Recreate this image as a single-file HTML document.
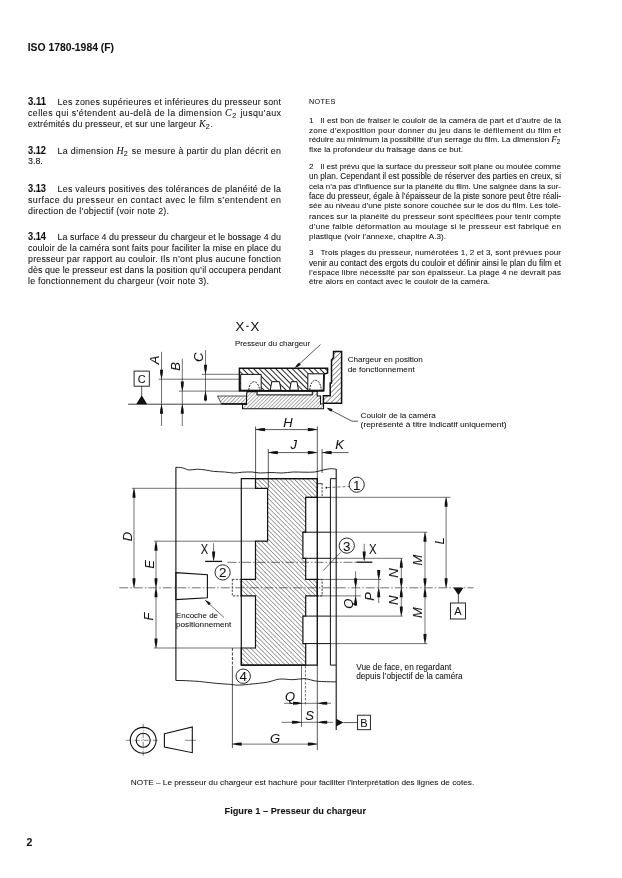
<!DOCTYPE html>
<html><head><meta charset="utf-8"><style>
html,body{margin:0;padding:0;background:#fff;}
body{width:622px;height:878px;overflow:hidden;position:relative;}
svg{position:absolute;left:0;top:0;filter:grayscale(1);}
text{font-family:"Liberation Sans", sans-serif;fill:#111;stroke:#111;stroke-width:0.06px;}
</style></head><body>
<svg width="622" height="878" viewBox="0 0 622 878">
<defs>
<pattern id="hp" patternUnits="userSpaceOnUse" width="3.9" height="3.9" patternTransform="rotate(-45)"><line x1="0" y1="0" x2="0" y2="3.9" stroke="#111" stroke-width="1.8"/></pattern>
<pattern id="hc" patternUnits="userSpaceOnUse" width="2.6" height="2.6" patternTransform="rotate(45)"><line x1="0" y1="0" x2="0" y2="2.6" stroke="#222" stroke-width="0.75"/></pattern>
<pattern id="hg" patternUnits="userSpaceOnUse" width="3.6" height="3.6" patternTransform="rotate(45)"><line x1="0" y1="0" x2="0" y2="3.6" stroke="#111" stroke-width="0.9"/></pattern>
<pattern id="hf" patternUnits="userSpaceOnUse" width="3.2" height="3.2" patternTransform="rotate(-45)"><line x1="0" y1="0" x2="0" y2="3.2" stroke="#111" stroke-width="0.75"/></pattern>
</defs>
<text x="27.7" y="50.8" font-size="10.4" font-weight="bold" textLength="86.3" lengthAdjust="spacingAndGlyphs">ISO 1780-1984 (F)</text>
<text x="28" y="105.2" font-size="10" font-weight="bold" textLength="18" lengthAdjust="spacingAndGlyphs">3.11</text>
<text x="57.6" y="105.2" font-size="8.9" textLength="223.4" lengthAdjust="spacing">Les zones supérieures et inférieures du presseur sont</text>
<text x="28" y="115.8" font-size="8.9" textLength="253" lengthAdjust="spacing">celles qui s’étendent au-delà de la dimension <tspan font-style="italic" style="font-family:'Liberation Serif',serif" font-size="1.12em">C</tspan><tspan font-size="0.8em" dy="2.2">2</tspan><tspan dy="-2.2"> </tspan> jusqu’aux</text>
<text x="28" y="126.9" font-size="8.9" textLength="185" lengthAdjust="spacing">extrémités du presseur, et sur une largeur <tspan font-style="italic" style="font-family:'Liberation Serif',serif" font-size="1.12em">K</tspan><tspan font-size="0.8em" dy="2.2">2</tspan><tspan dy="-2.2"> </tspan>.</text>
<text x="28" y="153.8" font-size="10" font-weight="bold" textLength="18" lengthAdjust="spacingAndGlyphs">3.12</text>
<text x="57.6" y="153.8" font-size="8.9" textLength="223.4" lengthAdjust="spacing">La dimension <tspan font-style="italic" style="font-family:'Liberation Serif',serif" font-size="1.12em">H</tspan><tspan font-size="0.8em" dy="2.2">2</tspan><tspan dy="-2.2"> </tspan> se mesure à partir du plan décrit en</text>
<text x="28" y="164.4" font-size="8.9">3.8.</text>
<text x="28" y="191.6" font-size="10" font-weight="bold" textLength="18" lengthAdjust="spacingAndGlyphs">3.13</text>
<text x="57.6" y="191.6" font-size="8.9" textLength="223.4" lengthAdjust="spacing">Les valeurs positives des tolérances de planéité de la</text>
<text x="28" y="202.7" font-size="8.9" textLength="253" lengthAdjust="spacing">surface du presseur en contact avec le film s’entendent en</text>
<text x="28" y="213.6" font-size="8.9" textLength="141" lengthAdjust="spacing">direction de l’objectif (voir note 2).</text>
<text x="28" y="240.1" font-size="10" font-weight="bold" textLength="18" lengthAdjust="spacingAndGlyphs">3.14</text>
<text x="57.6" y="240.1" font-size="8.9" textLength="223.4" lengthAdjust="spacing">La surface 4 du presseur du chargeur et le bossage 4 du</text>
<text x="28" y="251.2" font-size="8.9" textLength="253" lengthAdjust="spacing">couloir de la caméra sont faits pour faciliter la mise en place du</text>
<text x="28" y="261.9" font-size="8.9" textLength="253" lengthAdjust="spacing">presseur par rapport au couloir. Ils n’ont plus aucune fonction</text>
<text x="28" y="272.8" font-size="8.9" textLength="253" lengthAdjust="spacing">dès que le presseur est dans la position qu’il occupera pendant</text>
<text x="28" y="284.0" font-size="8.9" textLength="181" lengthAdjust="spacing">le fonctionnement du chargeur (voir note 3).</text>
<text x="309" y="104.4" font-size="7.2" textLength="26.2" lengthAdjust="spacing">NOTES</text>
<text x="309" y="122.6" font-size="8.1">1</text>
<text x="320.4" y="122.6" font-size="8.1" textLength="240.6" lengthAdjust="spacing">Il est bon de fraiser le couloir de la caméra de part et d’autre de la</text>
<text x="309" y="132.5" font-size="8.1" textLength="252" lengthAdjust="spacing">zone d’exposition pour donner du jeu dans le défilement du film et</text>
<text x="309" y="141.9" font-size="8.1" textLength="252" lengthAdjust="spacingAndGlyphs">réduire au minimum la possibilité d’un serrage du film. La dimension <tspan font-style="italic" style="font-family:'Liberation Serif',serif" font-size="1.12em">F</tspan><tspan font-size="0.8em" dy="2.2">2</tspan><tspan dy="-2.2"> </tspan></text>
<text x="309" y="151.8" font-size="8.1" textLength="154" lengthAdjust="spacing">fixe la profondeur du fraisage dans ce but.</text>
<text x="309" y="168.9" font-size="8.1">2</text>
<text x="320.4" y="168.9" font-size="8.1" textLength="240.6" lengthAdjust="spacingAndGlyphs">Il est prévu que la surface du presseur soit plane ou moulée comme</text>
<text x="309" y="179.3" font-size="8.4" textLength="252" lengthAdjust="spacingAndGlyphs">un plan. Cependant il est possible de réserver des parties en creux, si</text>
<text x="309" y="188.6" font-size="8.1" textLength="252" lengthAdjust="spacingAndGlyphs">cela n’a pas d’influence sur la planéité du film. Une saignée dans la sur-</text>
<text x="309" y="199.1" font-size="8.5" textLength="252" lengthAdjust="spacingAndGlyphs">face du presseur, égale à l’épaisseur de la piste sonore peut être réali-</text>
<text x="309" y="208.4" font-size="8.1" textLength="252" lengthAdjust="spacing">sée au niveau d’une piste sonore couchée sur le dos du film. Les tolé-</text>
<text x="309" y="218.6" font-size="8.1" textLength="252" lengthAdjust="spacing">rances sur la planéité du presseur sont spécifiées pour tenir compte</text>
<text x="309" y="229.0" font-size="8.1" textLength="252" lengthAdjust="spacing">d’une faible déformation au moulage si le presseur est fabriqué en</text>
<text x="309" y="238.5" font-size="8.1" textLength="137" lengthAdjust="spacing">plastique (voir l’annexe, chapitre A.3).</text>
<text x="309" y="255.3" font-size="8.1">3</text>
<text x="320.4" y="255.3" font-size="8.1" textLength="240.6" lengthAdjust="spacing">Trois plages du presseur, numérotées 1, 2 et 3, sont prévues pour</text>
<text x="309" y="265.6" font-size="8.5" textLength="252" lengthAdjust="spacingAndGlyphs">venir au contact des ergots du couloir et définir ainsi le plan du film et</text>
<text x="309" y="274.5" font-size="8.1" textLength="252" lengthAdjust="spacing">l’espace libre nécessité par son épaisseur. La plage 4 ne devrait pas</text>
<text x="309" y="284.0" font-size="8.1" textLength="181" lengthAdjust="spacing">être alors en contact avec le couloir de la caméra.</text>
<text x="130.8" y="785.4" font-size="7.9" textLength="343.4" lengthAdjust="spacingAndGlyphs">NOTE – Le presseur du chargeur est hachuré pour faciliter l’interprétation des lignes de cotes.</text>
<text x="224.5" y="813.5" font-size="8.9" font-weight="bold" textLength="141.5" lengthAdjust="spacingAndGlyphs">Figure 1 – Presseur du chargeur</text>
<text x="26.6" y="846" font-size="10.5" font-weight="bold">2</text>
<text x="235.6" y="331.4" font-size="13" textLength="8.8" lengthAdjust="spacingAndGlyphs">X</text>
<text x="250.5" y="331.4" font-size="13" textLength="8.8" lengthAdjust="spacingAndGlyphs">X</text>
<line x1="246.2" y1="326.3" x2="248.6" y2="326.3" stroke="#111" stroke-width="1.1"/>
<text x="235.0" y="346.3" font-size="7.8" textLength="75" lengthAdjust="spacingAndGlyphs">Presseur du chargeur</text>
<text x="347.7" y="361.7" font-size="8.1" textLength="75.1" lengthAdjust="spacingAndGlyphs">Chargeur en position</text>
<text x="347.7" y="371.7" font-size="8.1" textLength="67" lengthAdjust="spacingAndGlyphs">de fonctionnement</text>
<text x="360.6" y="417.5" font-size="8.1" textLength="75.1" lengthAdjust="spacingAndGlyphs">Couloir de la caméra</text>
<text x="360.6" y="427.3" font-size="8.1" textLength="146" lengthAdjust="spacingAndGlyphs">(représenté à titre indicatif uniquement)</text>
<text x="356.2" y="669.6" font-size="8.2" textLength="95.2" lengthAdjust="spacingAndGlyphs">Vue de face, en regardant</text>
<text x="356.2" y="678.6" font-size="8.2" textLength="106.5" lengthAdjust="spacingAndGlyphs">depuis l’objectif de la caméra</text>
<text x="176.0" y="617.6" font-size="7.9" textLength="42" lengthAdjust="spacingAndGlyphs">Encoche de</text>
<text x="176.0" y="627.0" font-size="7.9" textLength="55.4" lengthAdjust="spacingAndGlyphs">positionnement</text>
<rect x="134.1" y="371.1" width="15.2" height="15.1" fill="none" stroke="#111" stroke-width="0.9"/>
<text x="141.7" y="382.6" font-size="11" text-anchor="middle">C</text>
<line x1="141.7" y1="386.2" x2="141.7" y2="396" stroke="#111" stroke-width="0.7"/>
<polygon points="141.7,395.2 136.2,404.2 147.2,404.2" fill="#111"/>
<line x1="128.1" y1="404.2" x2="246" y2="404.2" stroke="#111" stroke-width="0.8"/>
<line x1="161.5" y1="351.8" x2="161.5" y2="426" stroke="#111" stroke-width="0.6"/>
<polygon points="161.5,379.2 160.26,373.97 159.95,369.70 163.05,369.70 162.74,373.97" fill="#111"/>
<polygon points="161.5,404.2 162.74,409.43 163.05,413.70 159.95,413.70 160.26,409.43" fill="#111"/>
<line x1="182.3" y1="358.6" x2="182.3" y2="426" stroke="#111" stroke-width="0.6"/>
<polygon points="182.3,391.1 181.06,385.88 180.75,381.60 183.85,381.60 183.54,385.88" fill="#111"/>
<polygon points="182.3,404.2 183.54,409.43 183.85,413.70 180.75,413.70 181.06,409.43" fill="#111"/>
<line x1="205.5" y1="350" x2="205.5" y2="401.5" stroke="#111" stroke-width="0.6"/>
<polygon points="205.5,374.3 204.26,369.07 203.95,364.80 207.05,364.80 206.74,369.07" fill="#111"/>
<polygon points="205.5,391.1 206.74,396.33 207.05,400.60 203.95,400.60 204.26,396.33" fill="#111"/>
<text x="0" y="0" font-size="13" font-style="italic" text-anchor="middle" transform="translate(159.3,360.0) rotate(-90)">A</text>
<text x="0" y="0" font-size="13" font-style="italic" text-anchor="middle" transform="translate(180.0,366.5) rotate(-90)">B</text>
<text x="0" y="0" font-size="13" font-style="italic" text-anchor="middle" transform="translate(203.2,357.2) rotate(-90)">C</text>
<line x1="158.6" y1="379.2" x2="240" y2="379.2" stroke="#111" stroke-width="0.6"/>
<line x1="178.8" y1="391.1" x2="240" y2="391.1" stroke="#111" stroke-width="0.6"/>
<line x1="201.6" y1="374.3" x2="240" y2="374.3" stroke="#111" stroke-width="0.6"/>
<polygon points="217.5,396 246.5,396 246.5,403.8 221.4,403.8" fill="url(#hc)" stroke="#111" stroke-width="0.7" stroke-linejoin="miter"/>
<line x1="221.4" y1="403.9" x2="246.5" y2="403.9" stroke="#111" stroke-width="1.3"/>
<polygon points="247,391.6 257.2,391.6 257.2,394.8 312.2,394.8 312.2,391.2 317.2,391.2 317.2,396 320.5,396 320.5,404 323.5,404 323.5,408.8 242.5,408.8 242.5,404.3 246.5,404.3 246.5,396" fill="url(#hc)" stroke="#111" stroke-width="1.1" stroke-linejoin="miter"/>
<rect x="257.2" y="391.2" width="55" height="3.6" fill="white" stroke="#111" stroke-width="0.8"/>
<polygon points="239.4,368.2 327.6,368.2 327.6,373 324.2,374 323.8,390.8 239.4,390.8" fill="url(#hp)" stroke="#111" stroke-width="1.5" stroke-linejoin="miter"/>
<polygon points="240.7,374.4 261.2,374.4 261.2,390.2 240.7,390.2" fill="white" stroke="#111" stroke-width="1.0" stroke-linejoin="miter"/>
<polygon points="307.8,373.8 323.6,373.8 323.2,390.2 307.8,390.2" fill="white" stroke="#111" stroke-width="1.0" stroke-linejoin="miter"/>
<polygon points="270.2,390.2 271.8,381.7 279.5,381.7 281,390.2" fill="white" stroke="#111" stroke-width="1.0" stroke-linejoin="miter"/>
<polygon points="289.7,390.2 291.2,381.7 297.0,381.7 298.4,390.2" fill="white" stroke="#111" stroke-width="1.0" stroke-linejoin="miter"/>
<line x1="239.4" y1="390.8" x2="323.8" y2="390.8" stroke="#111" stroke-width="1.4"/>
<path d="M248.8,390 C249.5,379 258.5,379 259.5,390" fill="none" stroke="#111" stroke-width="0.9" stroke-dasharray="2,1"/>
<path d="M309.8,390 C310.5,377 320.5,377 321.2,390" fill="none" stroke="#111" stroke-width="0.9" stroke-dasharray="2,1"/>
<polygon points="333.5,351.6 341.6,351.6 341.6,403.3 323.4,403.3 323.4,395.8 330.2,395.8 330.2,383 331.5,383 331.5,360 333.5,357.5" fill="url(#hg)" stroke="#111" stroke-width="1.5" stroke-linejoin="miter"/>
<line x1="320.5" y1="344.5" x2="298.5" y2="364.8" stroke="#111" stroke-width="0.7"/>
<polygon points="294.5,368 296.82,364.73 299.11,362.55 300.85,364.74 298.21,366.48" fill="#111"/>
<line x1="328.5" y1="409" x2="352" y2="421.2" stroke="#111" stroke-width="0.7"/>
<line x1="352" y1="421.2" x2="358" y2="421.2" stroke="#111" stroke-width="0.7"/>
<polygon points="326.6,407.8 330.02,408.35 332.55,409.32 331.39,411.65 329.09,410.21" fill="#111"/>
<line x1="255.6" y1="426.5" x2="255.6" y2="478.7" stroke="#111" stroke-width="0.7"/>
<line x1="317.3" y1="426.5" x2="317.3" y2="750" stroke="#111" stroke-width="0.7"/>
<line x1="255.6" y1="429.6" x2="317.3" y2="429.6" stroke="#111" stroke-width="0.7"/>
<polygon points="255.6,429.6 260.82,428.36 265.10,428.05 265.10,431.15 260.82,430.84" fill="#111"/>
<polygon points="317.3,429.6 312.07,430.84 307.80,431.15 307.80,428.05 312.07,428.36" fill="#111"/>
<line x1="268.3" y1="449" x2="268.3" y2="488.3" stroke="#111" stroke-width="0.7"/>
<line x1="268.3" y1="452.6" x2="317.3" y2="452.6" stroke="#111" stroke-width="0.7"/>
<polygon points="268.3,452.6 273.53,451.36 277.80,451.05 277.80,454.15 273.53,453.84" fill="#111"/>
<polygon points="317.3,452.6 312.07,453.84 307.80,454.15 307.80,451.05 312.07,451.36" fill="#111"/>
<line x1="322.1" y1="449" x2="322.1" y2="473" stroke="#111" stroke-width="0.7"/>
<line x1="322.1" y1="483.3" x2="322.1" y2="497.3" stroke="#111" stroke-width="0.8" stroke-dasharray="2.2,1.3"/>
<line x1="318" y1="483.7" x2="322.1" y2="483.7" stroke="#111" stroke-width="0.8"/>
<line x1="322.1" y1="452.6" x2="348.6" y2="452.6" stroke="#111" stroke-width="0.7"/>
<polygon points="322.1,452.6 327.33,451.36 331.60,451.05 331.60,454.15 327.33,453.84" fill="#111"/>
<text x="288" y="427.4" font-size="13" font-style="italic" text-anchor="middle">H</text>
<text x="293.8" y="449.4" font-size="13" font-style="italic" text-anchor="middle">J</text>
<text x="339.6" y="449.4" font-size="13" font-style="italic" text-anchor="middle">K</text>
<line x1="175.9" y1="467.3" x2="175.9" y2="680.5" stroke="#111" stroke-width="1.1"/>
<path d="M175.9,467.3 C176.97,467.38 180.10,467.35 182.3,467.8 C184.50,468.25 186.60,469.77 189.1,470 C191.60,470.23 194.57,469.20 197.3,469.2 C200.03,469.20 202.77,469.63 205.5,470 C208.23,470.37 210.50,471.07 213.7,471.4 C216.90,471.73 221.28,471.73 224.7,472 C228.12,472.27 231.25,472.97 234.2,473 C237.15,473.03 239.43,472.37 242.4,472.2 C245.37,472.03 249.03,471.87 252,472 C254.97,472.13 257.02,472.92 260.2,473 C263.38,473.08 267.47,472.50 271.1,472.5 C274.73,472.50 278.35,473.08 282,473 C285.65,472.92 289.35,472.13 293,472 C296.65,471.87 300.27,472.20 303.9,472.2 C307.53,472.20 311.62,472.37 314.8,472 C317.98,471.63 320.27,470.55 323,470 C325.73,469.45 329.00,468.82 331.2,468.7 C333.40,468.58 335.37,469.20 336.2,469.3" fill="none" stroke="#111" stroke-width="0.9"/>
<path d="M175.9,680.5 L181,680.5 C188,680.7 192,681 197,681.3 S215,683.5 225,684 S233,685.2 238.3,685.1 S247,684.5 252,684 S260,683.2 266,682.4 S275,679.5 279.3,679.1 S289,679.7 293,679.7 S300,678.6 304,678.6 S313,681 317.6,681.3 S330,681.8 336.2,681.9" fill="none" stroke="#111" stroke-width="0.9"/>
<line x1="336.2" y1="469" x2="336.2" y2="730" stroke="#111" stroke-width="1.1"/>
<polygon points="241.3,478.7 317.3,478.7 317.3,665.1 241.3,665.1" fill="none" stroke="#111" stroke-width="1.2" stroke-linejoin="miter"/>
<polygon points="255.5,478.7 317.3,478.7 317.3,497.3 305.7,497.3 305.7,532.2 302.9,532.2 302.9,558.3 305.7,558.3 305.7,579.4 317.3,579.4 317.3,595.9 305.7,595.9 305.7,616.1 302.9,616.1 302.9,643.6 305.7,643.6 305.7,665.1 241.3,665.1 241.3,648 255.5,648 255.5,595.9 241.3,595.9 241.3,579.4 255.5,579.4 255.5,541.2 267.6,541.2 267.6,488.3 255.5,488.3" fill="url(#hf)" stroke="#111" stroke-width="1.2" stroke-linejoin="miter"/>
<line x1="330.4" y1="478.7" x2="330.4" y2="665.1" stroke="#111" stroke-width="1.0"/>
<line x1="330.4" y1="478.7" x2="336.2" y2="478.7" stroke="#111" stroke-width="1.0"/>
<line x1="330.4" y1="665.1" x2="336.2" y2="665.1" stroke="#111" stroke-width="1.0"/>
<line x1="305.7" y1="497.3" x2="330.4" y2="497.3" stroke="#111" stroke-width="1.0"/>
<line x1="302.9" y1="532.2" x2="330.4" y2="532.2" stroke="#111" stroke-width="1.0"/>
<line x1="302.9" y1="558.3" x2="330.4" y2="558.3" stroke="#111" stroke-width="1.0"/>
<line x1="305.7" y1="616.1" x2="330.4" y2="616.1" stroke="#111" stroke-width="1.0"/>
<line x1="302.9" y1="643.6" x2="330.4" y2="643.6" stroke="#111" stroke-width="1.0"/>
<line x1="330.4" y1="497.3" x2="450.5" y2="497.3" stroke="#111" stroke-width="0.6"/>
<line x1="330.4" y1="532.2" x2="427.3" y2="532.2" stroke="#111" stroke-width="0.6"/>
<line x1="330.4" y1="558.3" x2="402.7" y2="558.3" stroke="#111" stroke-width="0.6"/>
<line x1="316.6" y1="579.4" x2="381" y2="579.4" stroke="#111" stroke-width="0.6"/>
<line x1="316.6" y1="595.9" x2="360.8" y2="595.9" stroke="#111" stroke-width="0.6"/>
<line x1="330.4" y1="616.1" x2="402.7" y2="616.1" stroke="#111" stroke-width="0.6"/>
<line x1="330.4" y1="643.6" x2="427.3" y2="643.6" stroke="#111" stroke-width="0.6"/>
<line x1="131.9" y1="488.3" x2="255.5" y2="488.3" stroke="#111" stroke-width="0.6"/>
<line x1="154" y1="541.2" x2="255.5" y2="541.2" stroke="#111" stroke-width="0.6"/>
<line x1="154" y1="648" x2="241.3" y2="648" stroke="#111" stroke-width="0.6"/>
<line x1="119.3" y1="587.8" x2="473.6" y2="587.8" stroke="#111" stroke-width="0.6" stroke-dasharray="9,2,1.5,2"/>
<line x1="227.5" y1="562.3" x2="356" y2="562.3" stroke="#111" stroke-width="0.6" stroke-dasharray="9,2,1.5,2"/>
<rect x="232.3" y="579.4" width="9" height="16.5" fill="none" stroke="#111" stroke-width="0.8" stroke-dasharray="2.2,1.3"/>
<rect x="317.3" y="579.4" width="4.8" height="16.5" fill="none" stroke="#111" stroke-width="0.8" stroke-dasharray="2.2,1.3"/>
<line x1="232.4" y1="648" x2="232.4" y2="667" stroke="#111" stroke-width="0.8" stroke-dasharray="3,1.5"/>
<line x1="232.4" y1="667" x2="232.4" y2="748" stroke="#111" stroke-width="0.7"/>
<line x1="134" y1="488.3" x2="134" y2="587.8" stroke="#111" stroke-width="0.6"/>
<polygon points="134,488.3 135.24,493.53 135.55,497.80 132.45,497.80 132.76,493.53" fill="#111"/>
<polygon points="134,587.8 132.76,582.57 132.45,578.30 135.55,578.30 135.24,582.57" fill="#111"/>
<line x1="156" y1="541.2" x2="156" y2="648" stroke="#111" stroke-width="0.6"/>
<polygon points="156,541.2 157.24,546.43 157.55,550.70 154.45,550.70 154.76,546.43" fill="#111"/>
<polygon points="156,587.8 154.76,582.57 154.45,578.30 157.55,578.30 157.24,582.57" fill="#111"/>
<polygon points="156,587.8 157.24,593.02 157.55,597.30 154.45,597.30 154.76,593.02" fill="#111"/>
<polygon points="156,648 154.76,642.77 154.45,638.50 157.55,638.50 157.24,642.77" fill="#111"/>
<text x="0" y="0" font-size="13" font-style="italic" text-anchor="middle" transform="translate(132.2,536.5) rotate(-90)">D</text>
<text x="0" y="0" font-size="13" font-style="italic" text-anchor="middle" transform="translate(153.6,564.5) rotate(-90)">E</text>
<text x="0" y="0" font-size="13" font-style="italic" text-anchor="middle" transform="translate(153.4,616.5) rotate(-90)">F</text>
<line x1="446.1" y1="497.3" x2="446.1" y2="587.8" stroke="#111" stroke-width="0.6"/>
<polygon points="446.1,497.3 447.34,502.53 447.65,506.80 444.55,506.80 444.86,502.53" fill="#111"/>
<polygon points="446.1,587.8 444.86,582.57 444.55,578.30 447.65,578.30 447.34,582.57" fill="#111"/>
<line x1="425" y1="532.2" x2="425" y2="643.6" stroke="#111" stroke-width="0.6"/>
<polygon points="425,532.2 426.24,537.43 426.55,541.70 423.45,541.70 423.76,537.43" fill="#111"/>
<polygon points="425,587.8 423.76,582.57 423.45,578.30 426.55,578.30 426.24,582.57" fill="#111"/>
<polygon points="425,587.8 426.24,593.02 426.55,597.30 423.45,597.30 423.76,593.02" fill="#111"/>
<polygon points="425,643.6 423.76,638.38 423.45,634.10 426.55,634.10 426.24,638.38" fill="#111"/>
<line x1="401.3" y1="558.3" x2="401.3" y2="616.1" stroke="#111" stroke-width="0.6"/>
<polygon points="401.3,558.3 402.54,563.52 402.85,567.80 399.75,567.80 400.06,563.52" fill="#111"/>
<polygon points="401.3,587.8 400.06,582.57 399.75,578.30 402.85,578.30 402.54,582.57" fill="#111"/>
<polygon points="401.3,587.8 402.54,593.02 402.85,597.30 399.75,597.30 400.06,593.02" fill="#111"/>
<polygon points="401.3,616.1 400.06,610.88 399.75,606.60 402.85,606.60 402.54,610.88" fill="#111"/>
<line x1="378.7" y1="569.8" x2="378.7" y2="603" stroke="#111" stroke-width="0.6"/>
<polygon points="378.7,579.4 377.46,574.17 377.15,569.90 380.25,569.90 379.94,574.17" fill="#111"/>
<polygon points="378.7,587.8 379.94,593.02 380.25,597.30 377.15,597.30 377.46,593.02" fill="#111"/>
<line x1="355.6" y1="571.3" x2="355.6" y2="606" stroke="#111" stroke-width="0.6"/>
<polygon points="355.6,587.8 354.36,582.57 354.05,578.30 357.15,578.30 356.84,582.57" fill="#111"/>
<polygon points="355.6,595.9 356.84,601.12 357.15,605.40 354.05,605.40 354.36,601.12" fill="#111"/>
<text x="0" y="0" font-size="13" font-style="italic" text-anchor="middle" transform="translate(444.3,541) rotate(-90)">L</text>
<text x="0" y="0" font-size="13" font-style="italic" text-anchor="middle" transform="translate(421.8,560.2) rotate(-90)">M</text>
<text x="0" y="0" font-size="13" font-style="italic" text-anchor="middle" transform="translate(421.8,612.7) rotate(-90)">M</text>
<text x="0" y="0" font-size="13" font-style="italic" text-anchor="middle" transform="translate(398.2,573) rotate(-90)">N</text>
<text x="0" y="0" font-size="13" font-style="italic" text-anchor="middle" transform="translate(398.2,600.3) rotate(-90)">N</text>
<text x="0" y="0" font-size="13" font-style="italic" text-anchor="middle" transform="translate(374,596.5) rotate(-90)">P</text>
<text x="0" y="0" font-size="13" font-style="italic" text-anchor="middle" transform="translate(353,603.8) rotate(-90)">Q</text>
<polygon points="453.4,587.8 463.5,587.8 458.4,595.2" fill="#111"/>
<line x1="458.4" y1="595" x2="458.4" y2="603" stroke="#111" stroke-width="0.7"/>
<rect x="450.5" y="603" width="15" height="16" fill="none" stroke="#111" stroke-width="0.9"/>
<text x="458" y="615" font-size="11" text-anchor="middle">A</text>
<polygon points="336.2,718.8 336.2,726.4 343.4,722.6" fill="#111"/>
<line x1="343.4" y1="722.6" x2="357.6" y2="722.6" stroke="#111" stroke-width="0.7"/>
<rect x="357.6" y="715.2" width="12.8" height="14.5" fill="none" stroke="#111" stroke-width="0.9"/>
<text x="364" y="726.6" font-size="11" text-anchor="middle">B</text>
<line x1="232.2" y1="744.1" x2="317.4" y2="744.1" stroke="#111" stroke-width="0.6"/>
<polygon points="232.2,744.1 237.42,742.86 241.70,742.55 241.70,745.65 237.42,745.34" fill="#111"/>
<polygon points="317.4,744.1 312.17,745.34 307.90,745.65 307.90,742.55 312.17,742.86" fill="#111"/>
<text x="275" y="742.5" font-size="13" font-style="italic" text-anchor="middle">G</text>
<line x1="301.5" y1="665.1" x2="301.5" y2="727" stroke="#111" stroke-width="0.6"/>
<line x1="305.4" y1="666" x2="305.4" y2="705" stroke="#111" stroke-width="0.6" stroke-dasharray="2.5,1.5"/>
<line x1="284" y1="703.3" x2="331" y2="703.3" stroke="#111" stroke-width="0.6"/>
<polygon points="302.5,703.3 297.27,704.54 293.00,704.85 293.00,701.75 297.27,702.06" fill="#111"/>
<polygon points="317.7,703.3 322.93,702.06 327.20,701.75 327.20,704.85 322.93,704.54" fill="#111"/>
<text x="290" y="700.5" font-size="13" font-style="italic" text-anchor="middle">Q</text>
<line x1="281.6" y1="722.3" x2="333" y2="722.3" stroke="#111" stroke-width="0.6"/>
<polygon points="301.5,722.3 296.27,723.54 292.00,723.85 292.00,720.75 296.27,721.06" fill="#111"/>
<polygon points="317.7,722.3 322.93,721.06 327.20,720.75 327.20,723.85 322.93,723.54" fill="#111"/>
<text x="309.5" y="719.5" font-size="13" font-style="italic" text-anchor="middle">S</text>
<line x1="213.6" y1="543.3" x2="213.6" y2="560.5" stroke="#111" stroke-width="0.6"/>
<polygon points="213.6,561 212.36,555.77 212.05,551.50 215.15,551.50 214.84,555.77" fill="#111"/>
<line x1="205.2" y1="561.4" x2="222.2" y2="561.4" stroke="#111" stroke-width="1.3"/>
<text x="200.8" y="553.7" font-size="14" textLength="7.4" lengthAdjust="spacingAndGlyphs">X</text>
<line x1="364.2" y1="543.8" x2="364.2" y2="560.5" stroke="#111" stroke-width="0.6"/>
<polygon points="364.2,561 362.96,555.77 362.65,551.50 365.75,551.50 365.44,555.77" fill="#111"/>
<line x1="356.4" y1="562.2" x2="372.3" y2="562.2" stroke="#111" stroke-width="1.3"/>
<text x="369" y="554.1" font-size="14" textLength="7.6" lengthAdjust="spacingAndGlyphs">X</text>
<polygon points="175.9,572.6 207.4,574.7 207.4,597.8 175.9,599.6" fill="none" stroke="#111" stroke-width="1.1" stroke-linejoin="miter"/>
<line x1="205" y1="600" x2="224" y2="617.5" stroke="#111" stroke-width="0.6"/>
<polygon points="205.5,600.2 208.62,601.69 210.78,603.34 209.00,605.24 207.21,603.21" fill="#111"/>
<circle cx="222.6" cy="572.4" r="7.6" fill="white" stroke="#111" stroke-width="0.9"/>
<text x="222.6" y="577.3" font-size="13.3" text-anchor="middle">2</text>
<circle cx="243.2" cy="676.2" r="7.2" fill="white" stroke="#111" stroke-width="0.9"/>
<text x="243.2" y="681.1" font-size="13.3" text-anchor="middle">4</text>
<circle cx="346.8" cy="545.6" r="7.6" fill="white" stroke="#111" stroke-width="0.9"/>
<text x="346.8" y="550.5" font-size="13.3" text-anchor="middle">3</text>
<circle cx="356.7" cy="484.7" r="7.6" fill="white" stroke="#111" stroke-width="0.9"/>
<text x="356.7" y="489.59999999999997" font-size="13.3" text-anchor="middle">1</text>
<line x1="340.5" y1="552.5" x2="323.1" y2="570.7" stroke="#111" stroke-width="0.6"/>
<circle cx="326.4" cy="487.7" r="0.9" fill="#111"/>
<line x1="327.5" y1="487.5" x2="349" y2="486.5" stroke="#111" stroke-width="0.6" stroke-dasharray="3,2"/>
<circle cx="143.2" cy="740.3" r="12.9" fill="none" stroke="#111" stroke-width="1.1"/>
<circle cx="143.2" cy="740.3" r="7" fill="none" stroke="#111" stroke-width="1.1"/>
<line x1="125.8" y1="740.3" x2="158" y2="740.3" stroke="#111" stroke-width="0.5" stroke-dasharray="5,1.5,1,1.5"/>
<line x1="143.2" y1="723.8" x2="143.2" y2="756.6" stroke="#111" stroke-width="0.5" stroke-dasharray="5,1.5,1,1.5"/>
<polygon points="164.4,733.7 192.3,727 192.3,752.7 164.4,747" fill="none" stroke="#111" stroke-width="1.1" stroke-linejoin="miter"/>
<line x1="185" y1="740.3" x2="196" y2="740.3" stroke="#111" stroke-width="0.5"/>
</svg>
</body></html>
